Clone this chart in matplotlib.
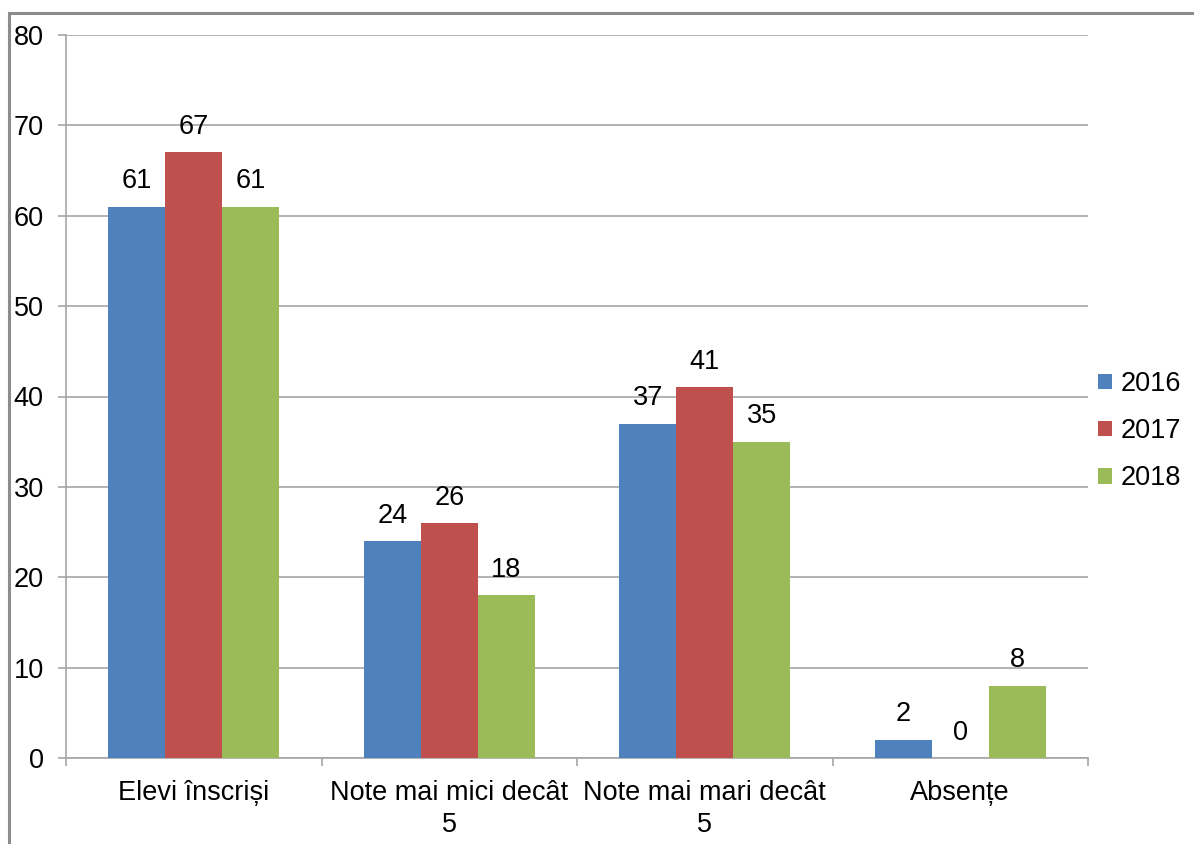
import numpy as np
import matplotlib.pyplot as plt
from matplotlib.patches import Rectangle

plt.rcParams['font.family'] = ['Liberation Sans', 'DejaVu Sans']

# Date
categorii = ['Elevi înscriși', 'Note mai mici decât\n5', 'Note mai mari decât\n5', 'Absențe']
ani = ['2016', '2017', '2018']
val_2016 = [61, 24, 37, 2]
val_2017 = [67, 26, 41, 0]
val_2018 = [61, 18, 35, 8]
culori = ['#4f81bd', '#c0504d', '#9bbb59']

fs = 19.5

fig = plt.figure(figsize=(11.94, 8.44), dpi=100)
ax = fig.add_axes([66 / 1194, 1 - 758 / 844, 1022 / 1194, 723 / 844])

# chenar gri in jurul figurii
fig.patches.append(Rectangle((9 / 1194, -0.1), 1.2, 1.1 - 13 / 844, transform=fig.transFigure,
                             fill=False, edgecolor='#8c8c8c', linewidth=2.2))

x = np.arange(len(categorii))
latime = 0.223
for i, (valori, an) in enumerate(zip([val_2016, val_2017, val_2018], ani)):
    bare = ax.bar(x + (i - 1) * latime, valori, latime, color=culori[i], label=an, zorder=3)
    for b, v in zip(bare, valori):
        ax.annotate(str(v), (b.get_x() + b.get_width() / 2, v), xytext=(0, 9),
                    textcoords='offset points', ha='center', va='bottom', fontsize=fs)

ax.set_xlim(-0.5, len(categorii) - 0.5)
ax.set_ylim(0, 80)
ax.set_yticks(range(0, 81, 10))
ax.yaxis.grid(True, color='#a6a6a6', linewidth=1.2, zorder=0)

ax.set_xticks(x)
ax.set_xticklabels(categorii, fontsize=fs, linespacing=1.3)
ax.set_xticks(np.arange(-0.5, len(categorii), 1), minor=True)
ax.tick_params(axis='x', which='major', length=0, pad=16)
ax.tick_params(axis='x', which='minor', length=6, color='#a6a6a6', width=1.2)
ax.tick_params(axis='y', length=6, color='#a6a6a6', width=1.2, labelsize=fs, pad=10)

for s in ['top', 'right']:
    ax.spines[s].set_visible(False)
for s in ['left', 'bottom']:
    ax.spines[s].set_color('#a6a6a6')
    ax.spines[s].set_linewidth(1.2)

ax.legend(loc='center left', bbox_to_anchor=(1.0098, 0.452), frameon=False, fontsize=fs,
          handlelength=0.52, handleheight=0.52, handletextpad=0.3, labelspacing=0.78,
          borderaxespad=0, borderpad=0)

fig.savefig('out.png', dpi=100)
